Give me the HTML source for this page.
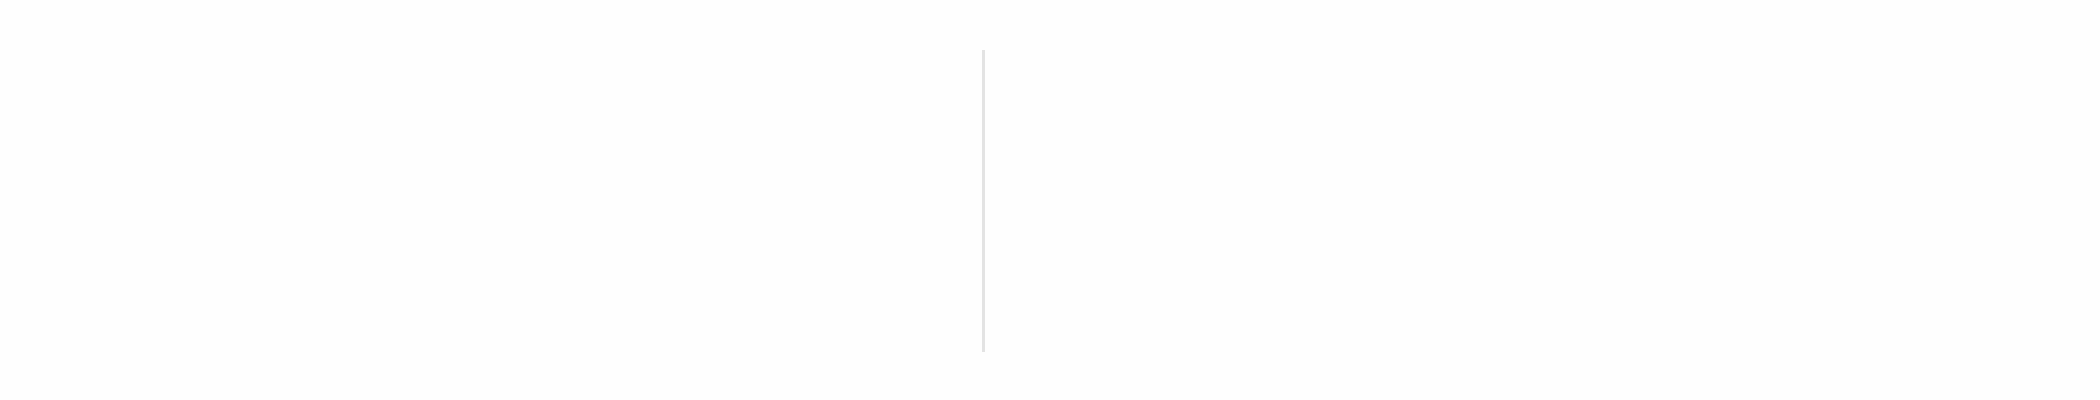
<!DOCTYPE html>
<html><head><style>
html,body{margin:0;padding:0;background:#fefefe;}
.c{position:relative;width:2100px;height:400px;background:#fefefe;overflow:hidden;}
.l{position:absolute;left:982px;top:50px;width:3px;height:302px;background:#e3e3e3;}
</style></head><body><div class="c"><div class="l"></div></div></body></html>
